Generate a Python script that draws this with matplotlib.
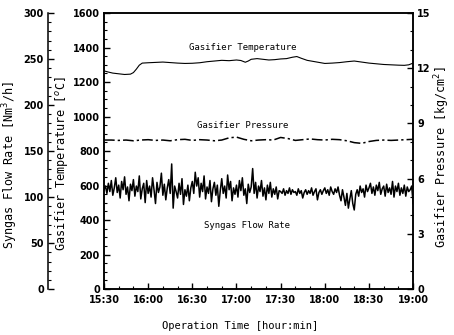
import matplotlib
matplotlib.use("Agg")
import matplotlib.pyplot as plt
from matplotlib.ticker import MultipleLocator
from matplotlib import font_manager

# ---------------- data ----------------
x_tick_labels = ["15:30", "16:00", "16:30", "17:00", "17:30", "18:00", "18:30", "19:00"]

# minutes after 15:30
temp_time = [0, 3, 6, 10, 14, 18, 20, 22, 24, 26, 30, 35, 40, 45, 50, 55, 60, 65, 70, 75,
             80, 85, 90, 93, 96, 98, 100, 104, 108, 112, 116, 120, 124, 128, 131, 134, 138,
             142, 146, 150, 155, 160, 165, 170, 175, 180, 185, 190, 195, 200, 204, 207, 210]
temperature = [1265, 1258, 1252, 1248, 1244, 1246, 1255, 1275, 1298, 1310, 1312, 1314, 1316,
               1313, 1310, 1308, 1309, 1312, 1318, 1322, 1326, 1324, 1328, 1325, 1315, 1322,
               1332, 1336, 1332, 1328, 1330, 1334, 1336, 1344, 1348, 1338, 1326, 1320, 1314,
               1308, 1310, 1313, 1318, 1322, 1316, 1310, 1306, 1302, 1300, 1298, 1297, 1300, 1310]

pres_time = list(range(0, 211, 5))
pressure = [8.10, 8.10, 8.08, 8.10, 8.06, 8.10, 8.12, 8.08, 8.10, 8.06, 8.12, 8.14, 8.08,
            8.12, 8.10, 8.06, 8.10, 8.22, 8.26, 8.14, 8.06, 8.10, 8.12, 8.10, 8.24, 8.18,
            8.08, 8.12, 8.16, 8.12, 8.10, 8.14, 8.12, 8.06, 7.96, 7.92, 8.02, 8.08, 8.10,
            8.08, 8.10, 8.12, 8.14]

flow_time = list(range(0, 211))
flow = [108, 112, 104, 115, 106, 118, 102, 110, 121, 105,
        113, 99, 117, 108, 122, 103, 111, 96, 114, 107,
        119, 101, 112, 106, 123, 98, 109, 115, 94, 118,
        104, 112, 100, 121, 108, 93, 116, 105, 111, 126,
        102, 114, 97, 110, 119, 104, 136, 88, 112, 106,
        99, 115, 103, 120, 92, 108, 101, 113, 96, 110,
        117, 104, 127, 112, 121, 100, 115, 106, 123, 98,
        111, 104, 118, 95, 109, 116, 102, 113, 90, 107,
        120, 104, 112, 99, 124, 108, 117, 96, 110, 103,
        113, 100, 118, 107, 121, 102, 109, 93, 114, 105,
        111, 131, 104, 116, 99, 112, 106, 118, 101, 110,
        97, 113, 104, 116, 100, 109, 103, 111, 98, 107,
        106, 104, 109, 102, 107, 104, 110, 103, 108, 105,
        106, 102, 109, 104, 107, 99, 105, 108, 103, 107,
        104, 110, 102, 106, 109, 97, 105, 108, 103, 107,
        110, 104, 108, 102, 111, 106, 103, 109, 105, 111,
        102, 96, 108, 100, 91, 104, 88, 98, 107, 93,
        86, 103, 108, 101, 112, 105, 109, 100, 113, 106,
        110, 115, 104, 111, 102, 113, 107, 116, 103, 109,
        112, 101, 114, 105, 110, 103, 117, 100, 112, 106,
        115, 102, 110, 104, 113, 101, 111, 106, 108, 112,
        93]

# ---------------- fonts ----------------
names = {f.name for f in font_manager.fontManager.ttflist}
tick_font = "Liberation Sans Narrow" if "Liberation Sans Narrow" in names else "DejaVu Sans"
label_font = "DejaVu Sans Mono"

fig = plt.figure(figsize=(4.54, 3.35), dpi=100)
fig.patch.set_facecolor("white")
ax = fig.add_axes([0.229, 0.137, 0.681, 0.824])
ax_p = ax.twinx()
ax_f = ax.twinx()

# temperature (main axis)
ax.plot(temp_time, temperature, color="black", lw=0.8)
ax.set_xlim(0, 210)
ax.set_ylim(0, 1600)
ax.set_xticks(range(0, 211, 30))
ax.set_xticklabels(x_tick_labels)
ax.xaxis.set_minor_locator(MultipleLocator(10))
ax.yaxis.set_major_locator(MultipleLocator(200))
ax.yaxis.set_minor_locator(MultipleLocator(50))

# pressure (right axis)
ax_p.plot(pres_time, pressure, color="black", lw=1.1, linestyle=(0, (7, 2, 1.5, 2)))
ax_p.set_ylim(0, 15)
ax_p.yaxis.set_major_locator(MultipleLocator(3))
ax_p.yaxis.set_minor_locator(MultipleLocator(1))

# flow (outer left axis)
ax_f.plot(flow_time, flow, color="black", lw=1.1)
ax_f.set_ylim(0, 300)
ax_f.yaxis.set_ticks_position("left")
ax_f.yaxis.set_label_position("left")
ax_f.spines["left"].set_position(("axes", -0.181))
for s in ["right", "top", "bottom"]:
    ax_f.spines[s].set_visible(False)
ax_f.spines["left"].set_linewidth(1.1)
ax_f.yaxis.set_major_locator(MultipleLocator(50))
ax_f.yaxis.set_minor_locator(MultipleLocator(10))

for a in (ax, ax_p):
    for s in a.spines.values():
        s.set_linewidth(1.1)

for a in (ax, ax_p, ax_f):
    a.tick_params(which="major", direction="in", length=4, width=1.0, pad=3)
    a.tick_params(which="minor", direction="in", length=2, width=0.8)
    for lab in a.get_xticklabels() + a.get_yticklabels():
        lab.set_fontfamily(tick_font)
        lab.set_fontweight("bold")
        lab.set_fontsize(7)

ax.tick_params(axis="x", pad=4)

# labels
ax_f.set_ylabel("Syngas Flow Rate [Nm$^3$/h]", fontfamily=label_font, fontsize=8.5)
ax_f.yaxis.set_label_coords(-0.272, 0.45)
ax.set_ylabel("Gasifier Temperature [$^o$C]", fontfamily=label_font, fontsize=8.5)
ax.yaxis.set_label_coords(-0.110, 0.453)
ax_p.set_ylabel("Gasifier Pressure [kg/cm$^2$]", fontfamily=label_font, fontsize=8.5)
ax_p.yaxis.set_label_coords(1.062, 0.48)
ax.set_xlabel("Operation Time [hour:min]", fontfamily=label_font, fontsize=7.5)
ax.xaxis.set_label_coords(0.44, -0.115)

# in-plot annotations
ax.text(94.5, 1403, "Gasifier Temperature", fontfamily=label_font, fontsize=6.5,
        ha="center", va="center")
ax.text(94.5, 950, "Gasifier Pressure", fontfamily=label_font, fontsize=6.5,
        ha="center", va="center")
ax.text(97, 371, "Syngas Flow Rate", fontfamily=label_font, fontsize=6.5,
        ha="center", va="center")

fig.savefig("out.png", dpi=100, facecolor="white")
